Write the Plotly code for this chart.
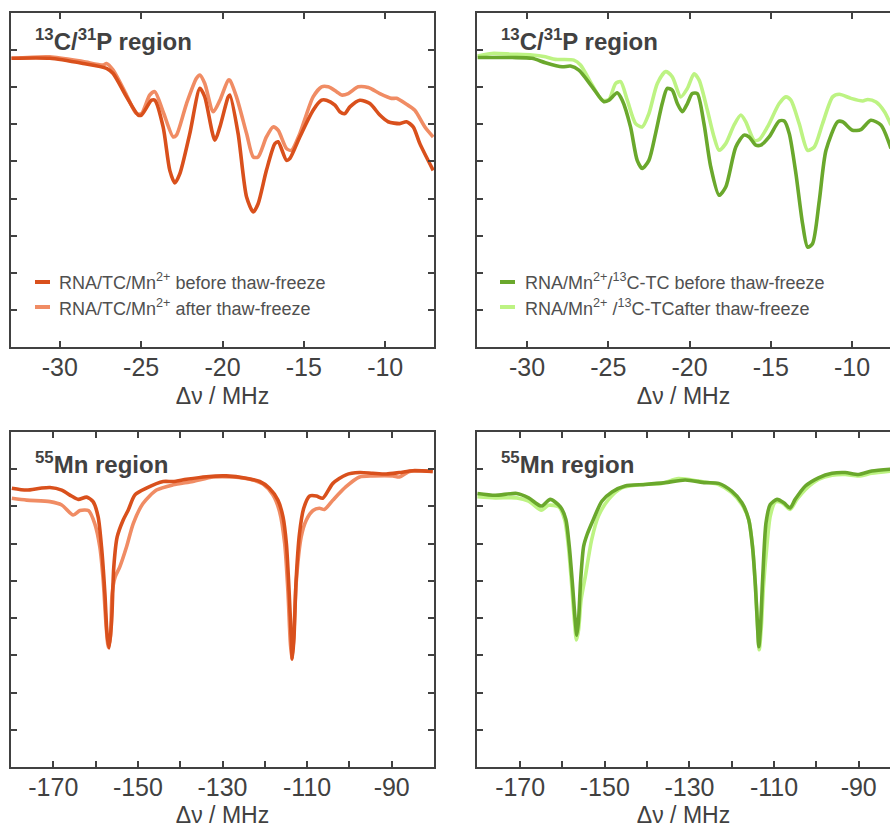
import plotly.graph_objects as go

# ---------------- data: 13C/31P region (frequency offset in MHz, normalised echo) ----------------
cp_x_tc_before = [-32.97, -30.61, -28.57, -27.13, -26.72, -25.90, -25.18, -24.98, -24.36, -24.16,
                  -23.65, -23.24, -22.93, -22.62, -22.01, -21.39, -21.09, -20.47, -20.16, -19.65,
                  -19.55, -19.04, -18.52, -18.11, -17.81, -17.30, -16.78, -16.58, -16.07, -15.86,
                  -15.25, -14.43, -13.91, -13.61, -13.09, -12.79, -12.48, -12.17, -11.56, -10.94,
                  -10.33, -9.82, -9.10, -8.69, -8.28, -7.87, -7.05]
cp_y_tc_before = [0.878, 0.878, 0.864, 0.851, 0.837, 0.774, 0.725, 0.725, 0.765, 0.765,
                  0.693, 0.576, 0.542, 0.567, 0.675, 0.797, 0.774, 0.657, 0.693, 0.774,
                  0.779, 0.675, 0.504, 0.464, 0.486, 0.576, 0.648, 0.653, 0.603, 0.608,
                  0.666, 0.738, 0.765, 0.765, 0.752, 0.734, 0.729, 0.747, 0.765, 0.756,
                  0.725, 0.707, 0.702, 0.707, 0.693, 0.648, 0.576]

cp_x_tc_after = [-32.97, -30.61, -28.57, -27.34, -27.13, -26.72, -25.90, -25.29, -24.98, -24.47,
                 -24.16, -23.65, -23.03, -22.83, -22.21, -21.60, -21.39, -21.09, -20.57, -20.16,
                 -19.65, -19.55, -19.14, -18.52, -18.11, -17.81, -17.30, -16.89, -16.58, -16.07,
                 -15.76, -15.25, -14.43, -13.91, -13.50, -12.99, -12.68, -12.27, -11.66, -11.04,
                 -10.33, -9.61, -9.30, -8.69, -8.18, -7.56, -7.05]
cp_y_tc_after = [0.878, 0.882, 0.869, 0.860, 0.864, 0.846, 0.779, 0.729, 0.729, 0.779,
                 0.788, 0.734, 0.666, 0.671, 0.756, 0.824, 0.833, 0.810, 0.734, 0.765,
                 0.819, 0.819, 0.774, 0.675, 0.612, 0.612, 0.666, 0.693, 0.684, 0.635,
                 0.630, 0.675, 0.774, 0.801, 0.801, 0.788, 0.779, 0.783, 0.801, 0.799,
                 0.783, 0.770, 0.770, 0.754, 0.738, 0.693, 0.666]

cp_x_c13_before = [-33.04, -30.92, -29.69, -28.87, -27.84, -27.33, -26.81, -25.99, -25.27, -24.96,
                   -24.45, -24.14, -23.63, -23.22, -22.91, -22.50, -22.09, -21.68, -21.37, -21.06,
                   -20.75, -20.44, -20.13, -19.83, -19.52, -19.11, -18.69, -18.18, -17.77, -17.15,
                   -16.64, -16.33, -15.92, -15.61, -15.10, -14.48, -14.17, -13.86, -13.45, -13.04,
                   -12.73, -12.43, -12.01, -11.60, -10.88, -10.58, -9.97, -9.45, -8.84, -8.22, -7.60]
cp_y_c13_before = [0.880, 0.880, 0.878, 0.866, 0.855, 0.857, 0.846, 0.801, 0.761, 0.765,
                   0.785, 0.765, 0.693, 0.603, 0.581, 0.603, 0.675, 0.756, 0.797, 0.792,
                   0.756, 0.734, 0.756, 0.783, 0.783, 0.702, 0.585, 0.509, 0.531, 0.639,
                   0.671, 0.666, 0.644, 0.644, 0.666, 0.709, 0.709, 0.675, 0.567, 0.432,
                   0.369, 0.378, 0.495, 0.630, 0.707, 0.707, 0.684, 0.686, 0.711, 0.698, 0.635]

cp_x_c13_after = [-33.04, -32.16, -30.92, -29.69, -28.87, -28.25, -27.12, -26.71, -25.99, -25.37,
                  -24.96, -24.55, -24.24, -23.83, -23.32, -22.91, -22.50, -21.98, -21.47, -21.06,
                  -20.54, -20.13, -19.72, -19.41, -18.90, -18.49, -18.18, -17.77, -17.26, -16.84,
                  -16.54, -16.02, -15.71, -15.20, -14.48, -14.07, -13.76, -13.25, -12.73, -12.32,
                  -11.81, -11.19, -10.78, -10.06, -9.34, -9.03, -8.52, -8.00, -7.60]
cp_y_c13_after = [0.884, 0.891, 0.889, 0.887, 0.882, 0.875, 0.873, 0.860, 0.806, 0.765,
                  0.767, 0.810, 0.815, 0.765, 0.702, 0.693, 0.729, 0.810, 0.842, 0.828,
                  0.774, 0.797, 0.836, 0.819, 0.738, 0.666, 0.630, 0.648, 0.698, 0.725,
                  0.707, 0.657, 0.659, 0.693, 0.756, 0.774, 0.765, 0.702, 0.630, 0.639,
                  0.702, 0.774, 0.781, 0.770, 0.763, 0.767, 0.760, 0.734, 0.698]

# ---------------- data: 55Mn region ----------------
mn_x_tc_before = [-179.8, -176.3, -173.1, -170.8, -168.0, -165.7, -164.1, -162.1, -160.6, -159.4,
                  -158.6, -157.8, -157.3, -156.8, -156.2, -155.7, -154.9, -153.5, -152.3, -150.7,
                  -148.0, -144.0, -141.7, -138.5, -133.8, -129.1, -124.4, -121.2, -118.9, -116.9,
                  -115.7, -114.9, -114.3, -113.8, -113.5, -113.1, -112.6, -111.8, -110.8, -109.4,
                  -107.8, -106.3, -103.9, -100.8, -97.6, -94.5, -91.3, -88.2, -85.0, -80.3]
mn_y_tc_before = [0.849, 0.844, 0.849, 0.851, 0.844, 0.828, 0.819, 0.825, 0.813, 0.772,
                  0.691, 0.565, 0.458, 0.420, 0.494, 0.637, 0.718, 0.763, 0.790, 0.831,
                  0.849, 0.867, 0.867, 0.873, 0.880, 0.882, 0.876, 0.867, 0.849, 0.817,
                  0.772, 0.700, 0.583, 0.458, 0.390, 0.449, 0.601, 0.727, 0.795, 0.828,
                  0.828, 0.822, 0.862, 0.885, 0.891, 0.889, 0.887, 0.891, 0.896, 0.894]

mn_x_tc_after = [-179.8, -176.3, -170.8, -168.0, -165.3, -163.7, -161.7, -160.2, -159.0, -158.2,
                 -157.6, -157.0, -156.5, -156.1, -155.4, -154.3, -152.7, -151.1, -148.8, -145.6,
                 -141.7, -137.0, -132.2, -127.5, -122.8, -120.4, -118.1, -116.5, -115.3, -114.5,
                 -114.0, -113.6, -113.2, -112.6, -111.4, -110.2, -108.6, -107.1, -105.9, -103.9,
                 -100.8, -97.6, -94.5, -89.7, -88.2, -85.8, -82.7, -80.3]
mn_y_tc_after = [0.822, 0.817, 0.813, 0.804, 0.777, 0.789, 0.789, 0.754, 0.691, 0.601,
                 0.494, 0.422, 0.449, 0.565, 0.610, 0.637, 0.691, 0.754, 0.808, 0.844,
                 0.858, 0.867, 0.879, 0.879, 0.871, 0.860, 0.831, 0.786, 0.700, 0.565,
                 0.440, 0.390, 0.440, 0.592, 0.718, 0.763, 0.789, 0.795, 0.792, 0.817,
                 0.853, 0.879, 0.882, 0.882, 0.879, 0.894, 0.896, 0.894]

mn_x_c13_before = [-180.1, -175.9, -170.8, -168.0, -165.0, -162.9, -160.5, -159.2, -158.4, -157.6,
                   -157.0, -156.6, -156.2, -155.7, -155.0, -154.2, -152.7, -150.7, -148.3, -145.2,
                   -140.4, -135.7, -131.0, -126.3, -123.1, -120.0, -117.6, -116.0, -115.1, -114.4,
                   -113.9, -113.6, -113.2, -112.7, -111.9, -110.9, -109.3, -107.7, -106.2, -105.0,
                   -102.6, -99.5, -96.3, -93.2, -90.0, -86.9, -82.5]
mn_y_c13_before = [0.835, 0.830, 0.835, 0.823, 0.801, 0.819, 0.799, 0.765, 0.693, 0.585,
                   0.495, 0.454, 0.495, 0.603, 0.693, 0.724, 0.765, 0.814, 0.839, 0.855,
                   0.859, 0.864, 0.871, 0.864, 0.862, 0.841, 0.810, 0.765, 0.693, 0.585,
                   0.477, 0.423, 0.477, 0.603, 0.756, 0.805, 0.819, 0.810, 0.796, 0.819,
                   0.855, 0.877, 0.889, 0.891, 0.886, 0.895, 0.900]

mn_x_c13_after = [-180.1, -175.9, -170.8, -168.0, -165.0, -163.3, -160.9, -159.5, -158.6, -157.8,
                  -157.2, -156.7, -156.2, -155.6, -154.6, -153.1, -151.5, -149.1, -146.0, -141.2,
                  -136.5, -132.6, -127.8, -123.1, -120.0, -117.6, -116.0, -115.1, -114.4, -113.9,
                  -113.5, -113.0, -112.5, -111.7, -110.9, -109.7, -108.1, -106.2, -104.6, -102.2,
                  -99.5, -96.3, -93.2, -90.0, -86.9, -82.5]
mn_y_c13_after = [0.826, 0.823, 0.823, 0.814, 0.790, 0.803, 0.799, 0.765, 0.693, 0.585,
                  0.495, 0.441, 0.468, 0.549, 0.612, 0.711, 0.774, 0.819, 0.850, 0.859,
                  0.862, 0.875, 0.868, 0.859, 0.837, 0.805, 0.765, 0.693, 0.585, 0.477,
                  0.415, 0.477, 0.585, 0.693, 0.774, 0.812, 0.810, 0.792, 0.819, 0.850,
                  0.873, 0.884, 0.886, 0.882, 0.889, 0.895]

# axis ticks
cp_ticks = [-30, -25, -20, -15, -10]
mn_ticks = [-170, -160, -150, -140, -130, -120, -110, -100, -90]
mn_tick_labels = ["-170", "", "-150", "", "-130", "", "-110", "", "-90"]
y_ticks = [0.2, 0.3, 0.4, 0.5, 0.6, 0.7, 0.8, 0.9]

# legend labels
label_tc_before = "RNA/TC/Mn<sup>2+</sup> before thaw-freeze"
label_tc_after = "RNA/TC/Mn<sup>2+</sup> after thaw-freeze"
label_c13_before = "RNA/Mn<sup>2+</sup>/<sup>13</sup>C-TC before thaw-freeze"
label_c13_after = "RNA/Mn<sup>2+</sup> /<sup>13</sup>C-TCafter thaw-freeze"

# colours
ORANGE_DARK = "#D9501C"
ORANGE_LIGHT = "#F08C64"
GREEN_DARK = "#6AA82C"
GREEN_LIGHT = "#BDF383"
INK = "#414141"
FONT = "Liberation Sans, Arial, sans-serif"

W, H = 890, 828


def px(xp):
    return xp / W


def py(yp):
    return 1 - yp / H


fig = go.Figure()

panels = [
    # (xaxis id, yaxis id, x-domain px, y-domain px, range, traces)
    ("x", "y", (11, 434), (13, 347), (-33.0, -7.0),
     [(cp_x_tc_before, cp_y_tc_before, ORANGE_DARK), (cp_x_tc_after, cp_y_tc_after, ORANGE_LIGHT)]),
    ("x2", "y2", (477, 890), (13, 347), (-33.08, -7.66),
     [(cp_x_c13_before, cp_y_c13_before, GREEN_DARK), (cp_x_c13_after, cp_y_c13_after, GREEN_LIGHT)]),
    ("x3", "y3", (11, 434), (432, 767), (-180.0, -80.0),
     [(mn_x_tc_before, mn_y_tc_before, ORANGE_DARK), (mn_x_tc_after, mn_y_tc_after, ORANGE_LIGHT)]),
    ("x4", "y4", (477, 890), (432, 767), (-180.2, -82.6),
     [(mn_x_c13_before, mn_y_c13_before, GREEN_DARK), (mn_x_c13_after, mn_y_c13_after, GREEN_LIGHT)]),
]

layout_axes = {}
for i, (xa, ya, xd, yd, xr, traces) in enumerate(panels):
    is_cp = i < 2
    is_right = i % 2 == 1
    # lighter trace drawn first so the darker one sits on top where they overlap
    for xs, ys, col in reversed(traces):
        fig.add_trace(go.Scatter(
            x=xs, y=ys, mode="lines", xaxis=xa, yaxis=ya, showlegend=False,
            line=dict(color=col, width=3.6, shape="spline", smoothing=0.7),
            hoverinfo="skip"))
    xkey = "xaxis" if xa == "x" else "xaxis" + xa[1:]
    ykey = "yaxis" if ya == "y" else "yaxis" + ya[1:]
    if is_cp:
        tv, tt = cp_ticks, [str(t) for t in cp_ticks]
    else:
        tv, tt = mn_ticks, mn_tick_labels
    layout_axes[xkey] = dict(
        domain=[px(xd[0]), px(xd[1])], range=list(xr), anchor=ya,
        showline=True, linecolor=INK, linewidth=2, mirror="ticks",
        ticks="inside", ticklen=6, tickwidth=2, tickcolor=INK,
        tickvals=tv, ticktext=tt, showgrid=False, zeroline=False,
        tickfont=dict(family=FONT, size=25, color=INK), ticklabelstandoff=-3,
        title=dict(text="Δν / MHz", font=dict(family=FONT, size=23, color=INK), standoff=8),
        fixedrange=True,
    )
    layout_axes[ykey] = dict(
        domain=[py(yd[1]), py(yd[0])], range=[0.1, 1.0], anchor=xa,
        showline=True, linecolor=INK, linewidth=2,
        mirror=False if is_right else "ticks",
        ticks="inside", ticklen=6, tickwidth=2, tickcolor=INK,
        tickvals=y_ticks, showticklabels=False, showgrid=False, zeroline=False,
        fixedrange=True,
    )

fig.update_layout(**layout_axes)

# panel headings
headings = [
    (33, 40, "<b><sup>13</sup>C/<sup>31</sup>P region</b>"),
    (499, 40, "<b><sup>13</sup>C/<sup>31</sup>P region</b>"),
    (33, 463, "<b><sup>55</sup>Mn region</b>"),
    (499, 463, "<b><sup>55</sup>Mn region</b>"),
]
annotations = []
for xp, yp, txt in headings:
    annotations.append(dict(
        x=px(xp), y=py(yp), xref="paper", yref="paper", xanchor="left", yanchor="middle",
        text=txt, showarrow=False, font=dict(family=FONT, size=24, color=INK)))

# in-panel legends: short line swatch followed by the label
legend_rows = [
    (35, 57, 282, ORANGE_DARK, label_tc_before),
    (35, 57, 307, ORANGE_LIGHT, label_tc_after),
    (500, 523, 282, GREEN_DARK, label_c13_before),
    (500, 523, 307, GREEN_LIGHT, label_c13_after),
]
shapes = []
for sx, tx, yp, col, txt in legend_rows:
    shapes.append(dict(type="line", xref="paper", yref="paper",
                       x0=px(sx), x1=px(sx + 15), y0=py(yp), y1=py(yp),
                       line=dict(color=col, width=4)))
    annotations.append(dict(
        x=px(tx), y=py(yp), xref="paper", yref="paper", xanchor="left", yanchor="middle",
        text=txt, showarrow=False, font=dict(family=FONT, size=18, color="#505050")))

fig.update_layout(
    width=W, height=H, margin=dict(l=0, r=0, t=0, b=0),
    paper_bgcolor="white", plot_bgcolor="white",
    annotations=annotations, shapes=shapes,
    font=dict(family=FONT, color=INK),
)

fig.write_html("out.html", config={"displayModeBar": False})
